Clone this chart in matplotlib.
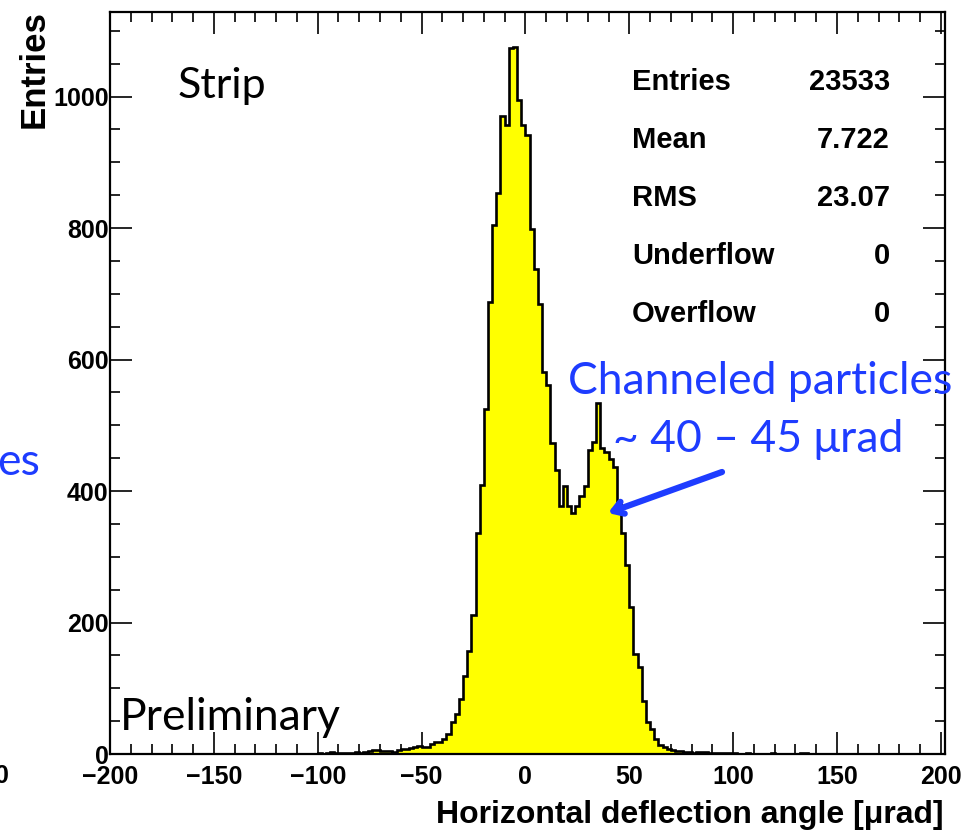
import numpy as np
import matplotlib
matplotlib.use("Agg")
import matplotlib.pyplot as plt
from matplotlib.ticker import MultipleLocator
from matplotlib import font_manager as fm

# ---------------- data ----------------
bin_width = 2
hist_lo, hist_hi = -200, 200
core_lo = -100   # first bin with counts
core_counts = [
    1, 0, 2, 3, 2, 1, 2, 1, 2, 3,            # -100 .. -82
    2, 3, 4, 6, 6, 4, 5, 4, 3, 6,            # -80 .. -62
    7, 8, 9, 10, 12, 10, 11, 15, 19, 19,     # -60 .. -42
    23, 31, 48, 61, 83, 118, 156, 212, 336, 409,       # -40 .. -22
    525, 688, 804, 853, 970, 957, 1074, 1076, 995, 957,  # -20 .. -2
    941, 799, 737, 684, 581, 561, 473, 432, 377, 408,    # 0 .. 18
    377, 366, 377, 392, 407, 463, 475, 534, 465, 460,    # 20 .. 38
    448, 437, 385, 336, 288, 223, 152, 132, 81, 48,      # 40 .. 58
    38, 23, 14, 10, 8, 6, 5, 5, 3, 3,        # 60 .. 78
    2, 3, 3, 3, 2, 1, 2, 1, 1, 1,            # 80 .. 98
]
tail_right = [1, 0, 0, 1, 0, 0, 0, 0, 0, 1, 0, 0, 0, 0, 0, 0, 1, 1]  # 100 .. 134

stats_labels = ["Entries", "Mean", "RMS", "Underflow", "Overflow"]
stats_values = ["23533", "7.722", "23.07", "0", "0"]

x_ticks = [-200, -150, -100, -50, 0, 50, 100, 150, 200]
y_ticks = [0, 200, 400, 600, 800, 1000]
x_label = "Horizontal deflection angle [\u03bcrad]"
y_label = "Entries"

# ---------------- build histogram ----------------
edges = np.arange(hist_lo, hist_hi + bin_width, bin_width)
counts = np.zeros(len(edges) - 1)
i0 = (core_lo - hist_lo) // bin_width
counts[i0:i0 + len(core_counts)] = core_counts
i1 = i0 + len(core_counts)
counts[i1:i1 + len(tail_right)] = tail_right

W, H = 979, 836
fig = plt.figure(figsize=(W / 100, H / 100), dpi=100)
fig.patch.set_facecolor("white")

def fx(px):
    return px / W

def fy(py):
    return 1 - py / H

# font choice: a narrow Helvetica if present, otherwise Liberation Sans at smaller sizes
names = {f.name for f in fm.fontManager.ttflist}
if "Liberation Sans Narrow" in names:
    bold_font = ["Liberation Sans Narrow", "DejaVu Sans"]
    fs_tick, fs_stat, fs_xlab = 22, 25, 27
else:
    bold_font = ["Liberation Sans", "DejaVu Sans"]
    fs_tick, fs_stat, fs_xlab = 18, 21, 23
cal = ["Lato", "DejaVu Sans"]
blue = "#1e3cff"

ax = fig.add_axes([fx(110), fy(754), fx(945) - fx(110), fy(11.7) - fy(754)])

ax.stairs(counts, edges, fill=True, color="#ffff00", zorder=2)
ax.stairs(counts, edges, color="black", lw=1.9, zorder=3)

ax.set_xlim(-200, 202)
ax.set_ylim(0, 1129)

ax.set_xticks(x_ticks)
ax.set_yticks(y_ticks)
ax.xaxis.set_minor_locator(MultipleLocator(10))
ax.yaxis.set_minor_locator(MultipleLocator(50))
ax.tick_params(which="both", direction="in", top=True, right=True, width=1.2,
               colors="black", zorder=5)
ax.tick_params(which="major", length=16)
ax.tick_params(which="minor", length=7.5)
ax.tick_params(axis="x", which="major", pad=8)
ax.tick_params(axis="y", which="major", pad=1)
for s in ax.spines.values():
    s.set_linewidth(1.6)
    s.set_zorder(6)

ax.set_xticklabels([f"{v}".replace("-", "\u2212") for v in x_ticks],
                   fontfamily=bold_font, fontweight="bold", fontsize=fs_tick)
ax.set_yticklabels([str(v) for v in y_ticks],
                   fontfamily=bold_font, fontweight="bold", fontsize=fs_tick)

fig.text(fx(944), fy(815), x_label, ha="right", va="center",
         fontfamily=bold_font, fontweight="bold", fontsize=fs_xlab)
fig.text(fx(34), fy(10), y_label, ha="center", va="top", rotation=90,
         fontfamily=["Liberation Sans", "DejaVu Sans"], fontweight="bold", fontsize=25)

# stats box (no border)
row_y = [82, 140, 198, 256, 314]
for lab, val, yy in zip(stats_labels, stats_values, row_y):
    fig.text(fx(632), fy(yy), lab, ha="left", va="center",
             fontfamily=bold_font, fontweight="bold", fontsize=fs_stat)
    fig.text(fx(890), fy(yy), val, ha="right", va="center",
             fontfamily=bold_font, fontweight="bold", fontsize=fs_stat)

# slide annotations
fig.text(fx(178), fy(86), "Strip", ha="left", va="center", fontfamily=cal, fontsize=31)
fig.text(fx(120), fy(718), "Preliminary", ha="left", va="center", fontfamily=cal, fontsize=32)
fig.text(fx(760), fy(382), "Channeled particles", ha="center", va="center",
         fontfamily=cal, fontsize=32, color=blue)
fig.text(fx(758), fy(440), "~ 40 \u2013 45 \u03bcrad", ha="center", va="center",
         fontfamily=cal, fontsize=32, color=blue)
fig.text(fx(-3), fy(462), "es", ha="left", va="center", fontfamily=cal, fontsize=32, color=blue)
fig.text(fx(-5), fy(776), "0", ha="left", va="center", fontfamily=bold_font,
         fontweight="bold", fontsize=fs_tick)

ax.annotate("", xy=(fx(608), fy(513)), xycoords="figure fraction",
            xytext=(fx(722), fy(472)), textcoords="figure fraction",
            arrowprops=dict(arrowstyle="->,head_length=0.7,head_width=0.45",
                            color=blue, lw=4.5, shrinkA=0, shrinkB=0),
            zorder=8)

fig.savefig("out.png", dpi=100)
